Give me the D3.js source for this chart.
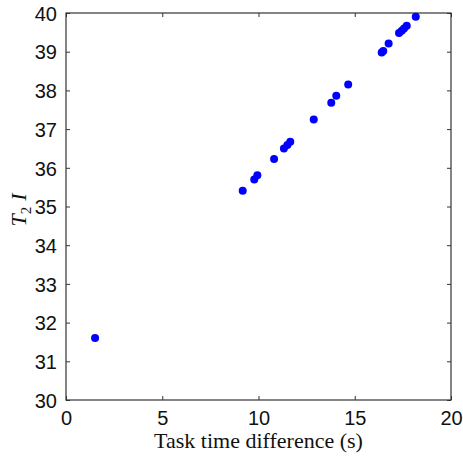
<!DOCTYPE html>
<html lang="en">
<head>
  <meta charset="UTF-8">
  <title>T2 I vs task time difference</title>
  <script src="https://d3js.org/d3.v7.min.js"></script>
  <style>
    body { margin: 0; background: #fff; }
    svg { display: block; }
    .tick text { font-family: "Liberation Sans", Arial, sans-serif; font-size: 20px; fill: #111; }
    .label { font-family: "Liberation Serif", "Times New Roman", serif; font-size: 22px; fill: #111; }
  </style>
</head>
<body>
  <svg width="463" height="458"></svg>
  <script>
    // values
    const taskTimeDiff = [1.51, 9.18, 9.78, 9.94, 10.81, 11.32, 11.50, 11.65, 12.87, 13.78, 14.04, 14.66, 16.40, 16.48, 16.76, 17.30, 17.44, 17.56, 17.70, 18.17];
    const t2i = [31.60, 35.41, 35.70, 35.81, 36.23, 36.50, 36.59, 36.67, 37.25, 37.68, 37.86, 38.15, 38.98, 39.02, 39.21, 39.48, 39.54, 39.60, 39.67, 39.90];
    const xTicks = [0, 5, 10, 15, 20];
    const yTicks = [30, 31, 32, 33, 34, 35, 36, 37, 38, 39, 40];

    const svg = d3.select("svg");
    const margin = {top: 13, right: 12, bottom: 58, left: 66};
    const width = 463 - margin.left - margin.right;
    const height = 458 - margin.top - margin.bottom;

    const g = svg.append("g").attr("transform", `translate(${margin.left},${margin.top})`);

    const x = d3.scaleLinear().domain([0, 20]).range([0, width]);
    const y = d3.scaleLinear().domain([30, 40]).range([height, 0]);

    const axisColor = "#333";
    const tl = 4;

    function styleAxis(sel) {
      sel.select(".domain").remove();
      sel.selectAll(".tick line").attr("stroke", axisColor);
    }

    // bottom
    g.append("g").attr("transform", `translate(0,${height})`)
      .call(d3.axisBottom(x).tickValues(xTicks).tickSize(-tl).tickPadding(9))
      .call(styleAxis)
      .call(a => a.selectAll(".tick text").attr("dy", "0.8em"));
    // top
    g.append("g")
      .call(d3.axisTop(x).tickValues(xTicks).tickSize(-tl).tickFormat(""))
      .call(styleAxis);
    // left
    g.append("g")
      .call(d3.axisLeft(y).tickValues(yTicks).tickSize(-tl).tickPadding(9))
      .call(styleAxis)
      .call(a => a.selectAll(".tick text").attr("dy", "0.36em"));
    // right
    g.append("g").attr("transform", `translate(${width},0)`)
      .call(d3.axisRight(y).tickValues(yTicks).tickSize(-tl).tickFormat(""))
      .call(styleAxis);

    g.append("rect")
      .attr("width", width).attr("height", height)
      .attr("fill", "none").attr("stroke", axisColor).attr("stroke-width", 1.2);

    const data = taskTimeDiff.map((d, i) => ({x: d, y: t2i[i]}));
    g.selectAll("circle").data(data).enter().append("circle")
      .attr("cx", d => x(d.x))
      .attr("cy", d => y(d.y))
      .attr("r", 4)
      .attr("fill", "#0000ff");

    svg.append("text").attr("class", "label")
      .attr("x", margin.left + width / 2).attr("y", 448)
      .attr("text-anchor", "middle")
      .text("Task time difference (s)");

    const yl = svg.append("text").attr("class", "label")
      .attr("transform", "translate(26,210) rotate(-90)")
      .attr("text-anchor", "middle")
      .style("font-style", "italic");
    yl.append("tspan").text("T");
    yl.append("tspan").attr("dy", 5).attr("font-size", "15px").style("font-style", "normal").text("2");
    yl.append("tspan").attr("dy", -5).attr("dx", 6).text("I");
  </script>
</body>
</html>
